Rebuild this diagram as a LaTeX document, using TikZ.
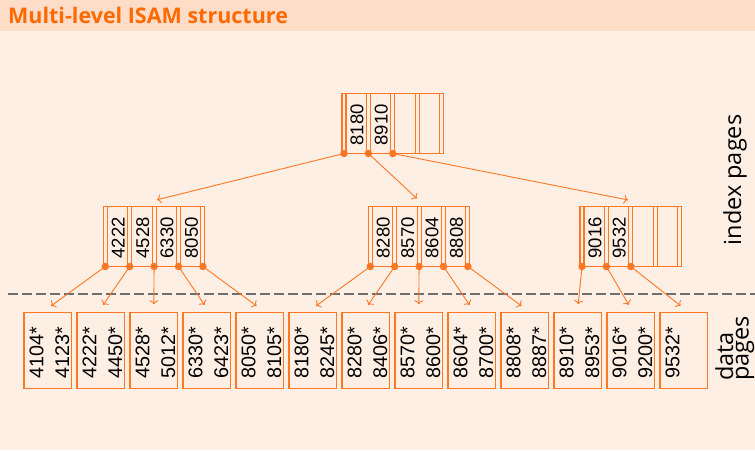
\documentclass[tikz,border=0pt]{standalone}
\usepackage{fontspec}
\setmainfont{Open Sans}
\newfontfamily\keyf{Liberation Sans}
\usetikzlibrary{arrows.meta,calc}
\definecolor{ora}{HTML}{FF7722}
\definecolor{titlec}{HTML}{FF6A00}
\definecolor{titlebg}{HTML}{FDDCC8}
\definecolor{bodybg}{HTML}{FEEFE4}
\definecolor{dashc}{HTML}{6E6E6E}
\tikzset{
  pg/.style={draw=ora, line width=1.1pt},
  ipg/.style={pg, inner sep=0pt, outer sep=0pt, minimum width=101.6pt, minimum height=60pt},
  dpage/.style={pg, inner sep=0pt, outer sep=0pt, minimum width=47.6pt, minimum height=76pt},
  ikey/.style={font=\keyf\fontsize{18.5}{19}\selectfont, inner sep=0pt, rotate=90, anchor=base west},
  dkey/.style={font=\keyf\fontsize{19.8}{20}\selectfont, inner sep=0pt, rotate=90, anchor=base west},
  ptr/.style={circle, fill=ora, inner sep=0pt, minimum size=7.5pt},
  arr/.style={draw=ora, line width=0.9pt, -{To[length=4pt,width=9pt]}},
  lbl/.style={font=\fontsize{23.5}{24}\selectfont, inner sep=0pt, rotate=90}
}
\newcommand\ipage[3]{% name, x0, ytop
  \node[ipg, anchor=north west] (#1) at (#2,#3) {};
  \foreach \i in {0,...,4}{
    \draw[pg] ({#2+\i*24.4},#3) rectangle ({#2+\i*24.4+4},{#3+60});
  }
}
\begin{document}
\begin{tikzpicture}[x=1pt,y=-1pt]
\useasboundingbox (0,0) rectangle (755,450);
\fill[bodybg] (0,0) rectangle (755,450);
\fill[titlebg] (0,0) rectangle (755,30.5);
\node[anchor=base west, inner sep=0pt, text=titlec, font=\bfseries\fontsize{21.5}{23}\selectfont] (title) at (8,23.3) {Multi-level ISAM structure};

% dashed separator
\coordinate (dsA) at (8,294);
\coordinate (dsB) at (755,294);
\draw[dashc, line width=1.5pt, dash pattern=on 9.5pt off 4.5pt] (dsA) -- (dsB);

% index pages
\ipage{R}{342}{93.5}
\ipage{L}{103.3}{206.5}
\ipage{M}{368.3}{206.5}
\ipage{Q}{580}{206.5}

% keys
\node[ikey] (Rk0) at ({342+4+0*24.4+17.3},145.5) {8180};
\node[ikey] (Rk1) at ({342+4+1*24.4+17.3},145.5) {8910};
\foreach \k [count=\j from 0] in {4222,4528,6330,8050}
  \node[ikey] (Lk\j) at ({103.3+4+\j*24.4+17.3},258.5) {\k};
\foreach \k [count=\j from 0] in {8280,8570,8604,8808}
  \node[ikey] (Mk\j) at ({368.3+4+\j*24.4+17.3},258.5) {\k};
\foreach \k [count=\j from 0] in {9016,9532}
  \node[ikey] (Qk\j) at ({580+4+\j*24.4+17.3},258.5) {\k};

% data pages
\foreach \a/\b [count=\n from 0] in {4104*/4123*,4222*/4450*,4528*/5012*,6330*/6423*,8050*/8105*,8180*/8245*,8280*/8406*,8570*/8600*,8604*/8700*,8808*/8887*,8910*/8953*,9016*/9200*,9532*/{}}{
  \node[dpage, anchor=north west] (D\n) at ({24+\n*53},312.3) {};
  \node[dkey] (Da\n) at ({24+\n*53+19.3},379) {\a};
  \node[dkey] (Db\n) at ({24+\n*53+45},379) {\b};
}

% pointers
\foreach \i in {0,1,2} \node[ptr] (Rp\i) at ({342+2+\i*24.4},153.5) {};
\foreach \i in {0,...,4} \node[ptr] (Lp\i) at ({103.3+2+\i*24.4},266.5) {};
\foreach \i in {0,...,4} \node[ptr] (Mp\i) at ({368.3+2+\i*24.4},266.5) {};
\foreach \i in {0,1,2} \node[ptr] (Qp\i) at ({580+2+\i*24.4},266.5) {};

% arrows root -> level 2
\draw[arr, shorten >=3pt] (Rp0.center) -- ($(L.north)+(0,-6)$);
\draw[arr, shorten >=3pt] (Rp1.center) -- ($(M.north)+(0,-6)$);
\draw[arr, shorten >=3pt] (Rp2.center) -- ($(Q.north)+(0,-6)$);

% arrows level 2 -> data
\foreach \i in {0,...,4}
  \draw[arr, shorten >=4pt] (Lp\i.center) -- ($(D\i.north)+(0,-4)$);
\foreach \i [evaluate=\i as \t using int(\i+5)] in {0,...,4}
  \draw[arr, shorten >=4pt] (Mp\i.center) -- ($(D\t.north)+(0,-4)$);
\foreach \i [evaluate=\i as \t using int(\i+10)] in {0,1,2}
  \draw[arr, shorten >=4pt] (Qp\i.center) -- ($(D\t.north)+(0,-4)$);

% labels
\node[lbl, anchor=base] (ilbl) at (741,180) {index pages};
\node[lbl, anchor=base west] (dlbl1) at (733,381) {data};
\node[lbl, anchor=base west] (dlbl2) at (748.5,381) {pages};
\end{tikzpicture}
\end{document}
